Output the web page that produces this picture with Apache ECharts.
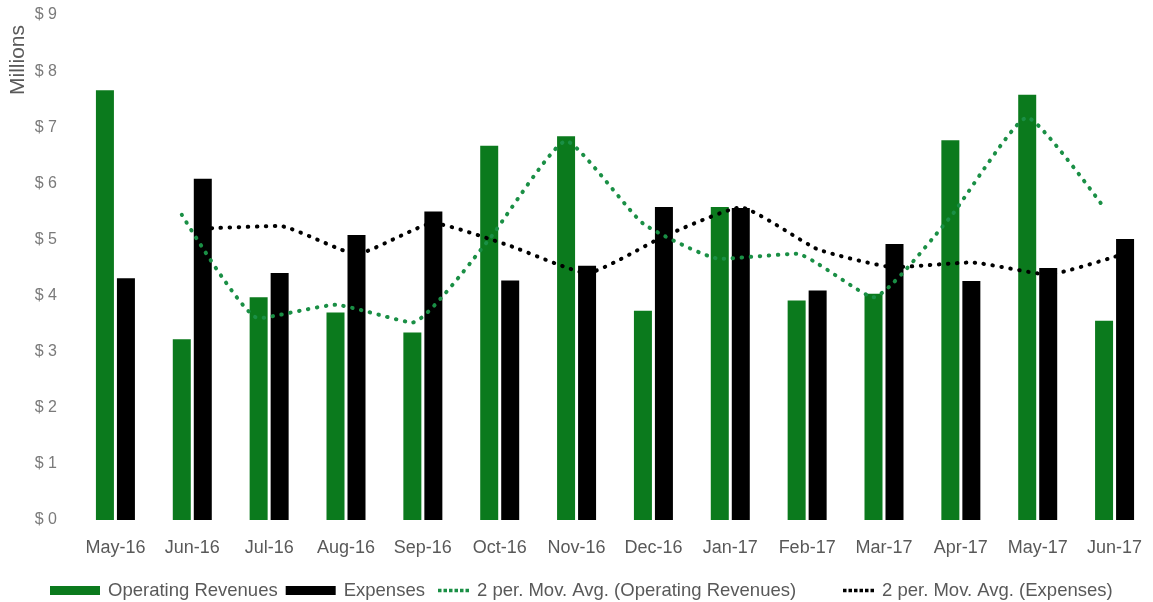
<!DOCTYPE html>
<html>
<head>
<meta charset="utf-8">
<script src="https://cdn.jsdelivr.net/npm/echarts@6/dist/echarts.min.js"></script>
<style>
  html, body { margin: 0; padding: 0; background: #fff; }
  #chart { width: 1153px; height: 602px; }
</style>
</head>
<body>
<div id="chart"></div>
<script>
// Monthly figures, in millions of dollars
const months = ['May-16', 'Jun-16', 'Jul-16', 'Aug-16', 'Sep-16', 'Oct-16', 'Nov-16',
                'Dec-16', 'Jan-17', 'Feb-17', 'Mar-17', 'Apr-17', 'May-17', 'Jun-17'];
const operatingRevenues = [7.66, 3.22, 3.97, 3.70, 3.34, 6.67, 6.84, 3.73, 5.58, 3.91, 4.03, 6.77, 7.58, 3.55];
const expenses = [4.31, 6.08, 4.40, 5.08, 5.50, 4.27, 4.53, 5.58, 5.56, 4.09, 4.92, 4.26, 4.49, 5.01];
const yTicks = [0, 1, 2, 3, 4, 5, 6, 7, 8, 9];

const GREEN = '#0b7a1d';
const GREEN_TREND = '#1a8f45';
const TEXT = '#595959';
const FONT = '"Liberation Sans", Arial, sans-serif';

// Plot geometry
const GRID_LEFT = 77;
const GRID_WIDTH = 1080;
const BAR_WIDTH = 18;
const BAR_GAP = 3;

// Two-period moving average, plotted from the second month onward
function movingAverage2(values) {
  const out = [];
  for (let i = 1; i < values.length; i++) {
    out.push([i, (values[i - 1] + values[i]) / 2]);
  }
  return out;
}

// Trend lines sit over the centre of their own bar within each month's pair
const catWidth = GRID_WIDTH / months.length;
const barShift = (BAR_WIDTH + BAR_GAP) / 2 / catWidth;
const shifted = (pts, dx) => pts.map(p => [p[0] + dx, p[1]]);

const revAvg = shifted(movingAverage2(operatingRevenues), -barShift);
const expAvg = shifted(movingAverage2(expenses), barShift);

const dotted = [0.5, 8.5];
// Legend swatch for the dotted trend lines: a row of six dots
const dotsIcon = 'path://M0,0h3.5v3.5h-3.5zM5.5,0h3.5v3.5h-3.5zM11,0h3.5v3.5h-3.5zM16.5,0h3.5v3.5h-3.5zM22,0h3.5v3.5h-3.5zM27.5,0h3.5v3.5h-3.5z';

const legendText = { color: TEXT, fontSize: 18.5, fontFamily: FONT, padding: [0, 0, 0, 3] };
const LEGEND_TOP = 576;

const chart = echarts.init(document.getElementById('chart'), null, { renderer: 'canvas' });
chart.setOption({
  backgroundColor: '#ffffff',
  animation: false,
  textStyle: { fontFamily: FONT },
  grid: { left: GRID_LEFT, width: GRID_WIDTH, top: 15, bottom: 82, containLabel: false },
  graphic: [{
    type: 'text',
    left: 8,
    top: 25,
    rotation: Math.PI / 2,
    style: {
      text: 'Millions',
      fill: TEXT,
      font: '21px ' + FONT
    }
  }],
  legend: [{
    data: ['Operating Revenues', 'Expenses'],
    left: 45,
    top: LEGEND_TOP,
    itemWidth: 50,
    itemHeight: 9,
    itemGap: 8,
    icon: 'rect',
    textStyle: legendText
  }, {
    data: [{ name: '2 per. Mov. Avg. (Operating Revenues)', icon: dotsIcon }],
    left: 433,
    top: LEGEND_TOP,
    itemWidth: 31,
    itemHeight: 3.5,
    textStyle: legendText
  }, {
    data: [{ name: '2 per. Mov. Avg. (Expenses)', icon: dotsIcon }],
    left: 838,
    top: LEGEND_TOP,
    itemWidth: 31,
    itemHeight: 3.5,
    textStyle: legendText
  }],
  xAxis: [{
    type: 'category',
    data: months,
    axisLine: { show: false },
    axisTick: { show: false },
    axisLabel: { color: TEXT, fontSize: 18, margin: 19, interval: 0 }
  }, {
    type: 'value',
    min: -0.5,
    max: months.length - 0.5,
    show: false
  }],
  yAxis: {
    type: 'value',
    min: yTicks[0],
    max: yTicks[yTicks.length - 1],
    interval: 1,
    splitLine: { show: false },
    axisLine: { show: false },
    axisTick: { show: false },
    axisLabel: {
      color: '#7a7a7a',
      fontSize: 16,
      margin: 20,
      formatter: v => '$ ' + v
    }
  },
  series: [{
    name: 'Operating Revenues',
    type: 'bar',
    data: operatingRevenues,
    barWidth: BAR_WIDTH,
    barGap: (BAR_GAP / BAR_WIDTH * 100) + '%',
    itemStyle: { color: GREEN }
  }, {
    name: 'Expenses',
    type: 'bar',
    data: expenses,
    barWidth: BAR_WIDTH,
    itemStyle: { color: '#000000' }
  }, {
    name: '2 per. Mov. Avg. (Operating Revenues)',
    type: 'line',
    xAxisIndex: 1,
    data: revAvg,
    smooth: 0.15,
    symbol: 'none',
    z: 5,
    itemStyle: { color: GREEN_TREND },
    lineStyle: { color: GREEN_TREND, width: 4, type: dotted, cap: 'round' }
  }, {
    name: '2 per. Mov. Avg. (Expenses)',
    type: 'line',
    xAxisIndex: 1,
    data: expAvg,
    smooth: 0.15,
    symbol: 'none',
    z: 5,
    itemStyle: { color: '#000000' },
    lineStyle: { color: '#000000', width: 4, type: dotted, cap: 'round' }
  }]
});
</script>
</body>
</html>
